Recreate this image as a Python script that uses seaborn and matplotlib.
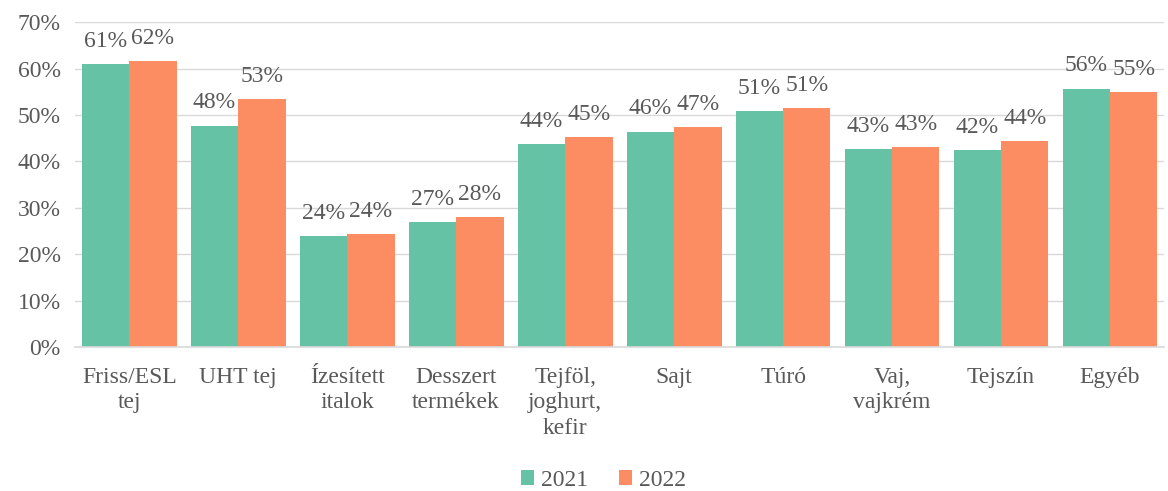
import matplotlib
matplotlib.use("Agg")
import matplotlib.pyplot as plt
import seaborn as sns
import pandas as pd

categories = ["Friss/ESL\ntej", "UHT tej", "Ízesített\nitalok", "Desszert\ntermékek",
              "Tejföl,\njoghurt,\nkefir", "Sajt", "Túró", "Vaj,\nvajkrém", "Tejszín", "Egyéb"]
values_2021 = [60.9, 47.7, 23.9, 26.9, 43.7, 46.4, 50.8, 42.6, 42.4, 55.6]
values_2022 = [61.6, 53.4, 24.3, 28.0, 45.2, 47.4, 51.4, 43.1, 44.3, 54.9]
series = ["2021", "2022"]
yticks = [0, 10, 20, 30, 40, 50, 60, 70]

df = pd.DataFrame({
    "cat": categories * 2,
    "val": values_2021 + values_2022,
    "year": [series[0]] * len(categories) + [series[1]] * len(categories),
})

sns.set_theme(style="white")
plt.rcParams["font.family"] = ["Liberation Serif", "DejaVu Serif"]
txt = "#595959"
fs = 17

fig = plt.figure(figsize=(11.68, 4.91), dpi=100)
ax = fig.add_axes([0.064, 0.293, 0.933, 0.662])
sns.barplot(data=df, x="cat", y="val", hue="year", palette=["#66C2A5", "#FC8D62"],
            width=0.87, saturation=1, ax=ax, legend=True, linewidth=0, edgecolor="none")

for cont in ax.containers:
    ax.bar_label(cont, labels=[f"{round(v.get_height())}%" for v in cont],
                 padding=9, fontsize=fs, color=txt)

ax.set_ylim(0, 70)
ax.set_yticks(yticks)
ax.set_yticklabels([f"{t}%" for t in yticks], fontsize=fs, color=txt)
ax.set_xlim(-0.5, len(categories) - 0.5)
ax.tick_params(axis="x", labelsize=fs, colors=txt, length=0, pad=14)
ax.tick_params(axis="y", length=0, pad=10)
for lab in ax.get_xticklabels():
    lab.set_linespacing(1.3)
ax.set_xlabel("")
ax.set_ylabel("")
ax.grid(axis="y", color="#d9d9d9", linewidth=1)
ax.set_axisbelow(True)
for s in ["left", "right", "top"]:
    ax.spines[s].set_visible(False)
ax.spines["bottom"].set_color("#d9d9d9")
ax.spines["bottom"].set_linewidth(1.2)

leg = ax.legend(loc="center", bbox_to_anchor=(0.485, -0.41), ncol=2, frameon=False,
                fontsize=fs, handlelength=0.55, handleheight=0.55, columnspacing=1.3,
                handletextpad=0.3, borderaxespad=0, borderpad=0)
for t in leg.get_texts():
    t.set_color(txt)

fig.savefig("out.png", dpi=100)
